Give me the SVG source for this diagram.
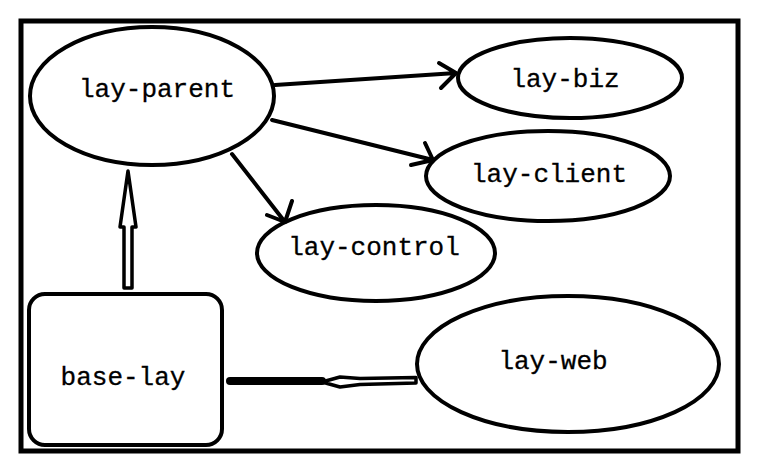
<svg xmlns="http://www.w3.org/2000/svg" width="766" height="473" viewBox="0 0 766 473">
<style>
.node{fill:#fff;stroke:#000;stroke-width:4}
.lbl{font-family:"Liberation Mono","DejaVu Sans Mono",monospace;font-size:26px;fill:#000;stroke:#000;stroke-width:0.3;text-anchor:middle;dominant-baseline:central}
.edge{fill:none;stroke:#000;stroke-width:4;stroke-linecap:round;stroke-linejoin:round}
</style>
<rect x="0" y="0" width="766" height="473" fill="#fff"/>
<rect x="21" y="21" width="717" height="430" fill="none" stroke="#000" stroke-width="5"/>
<g id="lay-parent"><ellipse class="node" cx="152" cy="96" rx="122" ry="69"/><text class="lbl" x="157" y="90">lay-parent</text></g>
<g id="lay-biz"><ellipse class="node" cx="570" cy="78" rx="112" ry="40"/><text class="lbl" x="565" y="80">lay-biz</text></g>
<g id="lay-client"><ellipse class="node" cx="548" cy="176" rx="122" ry="45"/><text class="lbl" x="549" y="175">lay-client</text></g>
<g id="lay-control"><ellipse class="node" cx="376" cy="253" rx="119" ry="48"/><text class="lbl" x="374" y="248">lay-control</text></g>
<g id="lay-web"><ellipse class="node" cx="568" cy="364" rx="151" ry="68"/><text class="lbl" x="553" y="362">lay-web</text></g>
<g id="base-lay"><rect class="node" x="29" y="294" width="193" height="151" rx="16"/><text class="lbl" x="123" y="378">base-lay</text></g>
<g id="connectors">
<path class="edge" d="M275 85 L456 73 M439 63 L456 73 L441 88"/>
<path class="edge" d="M272 120 L433 160 M425 143 L433 160 L411 165"/>
<path class="edge" d="M232 154 L285 222 M292 201 L285 222 L267 215"/>
<polygon points="124,288 124,227 120,227 128,171 136,227 132,227 132,288" fill="#fff" stroke="#000" stroke-width="3.5" stroke-linejoin="round"/>
<line x1="230" y1="381" x2="322" y2="381" stroke="#000" stroke-width="8" stroke-linecap="round"/>
<polygon points="322,382 340,377 360,378.5 416,377.5 416,383 360,384.5 340,387" fill="#fff" stroke="#000" stroke-width="3.5" stroke-linejoin="round"/>
</g>
</svg>
